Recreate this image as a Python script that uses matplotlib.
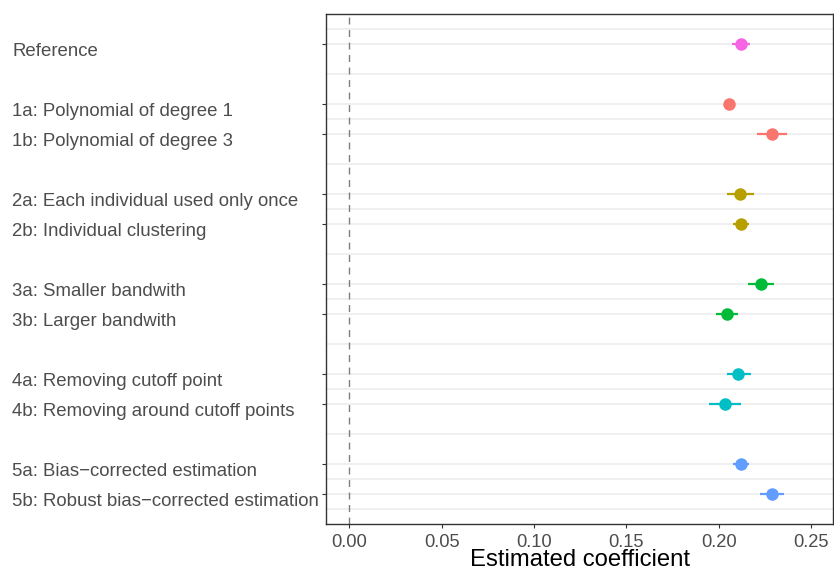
import numpy as np
import matplotlib.pyplot as plt
from matplotlib import transforms

plt.rcParams['font.family'] = ['Liberation Sans', 'DejaVu Sans']

# Data
labels = ['Reference',
          '1a: Polynomial of degree 1', '1b: Polynomial of degree 3',
          '2a: Each individual used only once', '2b: Individual clustering',
          '3a: Smaller bandwith', '3b: Larger bandwith',
          '4a: Removing cutoff point', '4b: Removing around cutoff points',
          '5a: Bias\u2212corrected estimation', '5b: Robust bias\u2212corrected estimation']
rows = [0, 2, 3, 5, 6, 8, 9, 11, 12, 14, 15]
estimate = [0.212, 0.2055, 0.2288, 0.2116, 0.2118, 0.2227, 0.2042, 0.2106, 0.2031, 0.212, 0.2288]
ci_low = [0.2071, 0.2045, 0.2208, 0.2044, 0.2075, 0.2156, 0.1983, 0.2042, 0.1945, 0.2075, 0.2225]
ci_high = [0.2170, 0.2065, 0.2369, 0.2190, 0.2161, 0.2297, 0.2104, 0.2172, 0.2122, 0.2165, 0.2355]
group = ['ref', '1', '1', '2', '2', '3', '3', '4', '4', '5', '5']
colors = {'1': '#F8766D', '2': '#B79F00', '3': '#00BA38', '4': '#00BFC4',
          '5': '#619CFF', 'ref': '#F564E3'}

fig = plt.figure(figsize=(8.34, 5.70), dpi=100)
ax = fig.add_axes([326 / 834, 1 - 524 / 570, (833 - 326) / 834, (524 - 14) / 570])

# grid lines: major at each row, minor halfway between
minor = [-0.5] + [(a + b) / 2 for a, b in zip(rows[:-1], rows[1:])] + [15.5]
for y in rows + minor:
    ax.axhline(y, color='#EBEBEB', lw=1.1, zorder=0)

ax.axvline(0, color='#7F7F7F', lw=1.0, ls=(0, (5, 4)), zorder=1)

for y, e, lo, hi, g in zip(rows, estimate, ci_low, ci_high, group):
    c = colors[g]
    ax.plot([lo, hi], [y, y], color=c, lw=1.6, solid_capstyle='butt', zorder=2)
    ax.plot(e, y, 'o', color=c, ms=9, mec='none', zorder=3)

ax.set_xlim(-0.0126, 0.2618)
ax.set_ylim(16, -1)
ax.set_xticks([0, 0.05, 0.10, 0.15, 0.20, 0.25])
ax.set_xticklabels(['0.00', '0.05', '0.10', '0.15', '0.20', '0.25'])
ax.tick_params(axis='x', labelsize=13.2, labelcolor='#4D4D4D', color='#333333',
               length=3, width=0.8, pad=4)
ax.set_yticks(rows)
ax.set_yticklabels([])
ax.tick_params(axis='y', color='#333333', length=3, width=0.8)

# left-aligned row labels
trans = transforms.blended_transform_factory(fig.transFigure, ax.transData)
trans = transforms.offset_copy(trans, fig=fig, x=0, y=-7, units='dots')
for y, lab in zip(rows, labels):
    ax.text(12 / 834, y, lab, transform=trans, ha='left', va='center',
            fontsize=13.4, color='#4D4D4D')

for s in ax.spines.values():
    s.set_color('#333333')
    s.set_linewidth(1.0)

ax.set_xlabel('Estimated coefficient', fontsize=17.2, color='black', labelpad=-1)

fig.savefig('out.png', dpi=100)
